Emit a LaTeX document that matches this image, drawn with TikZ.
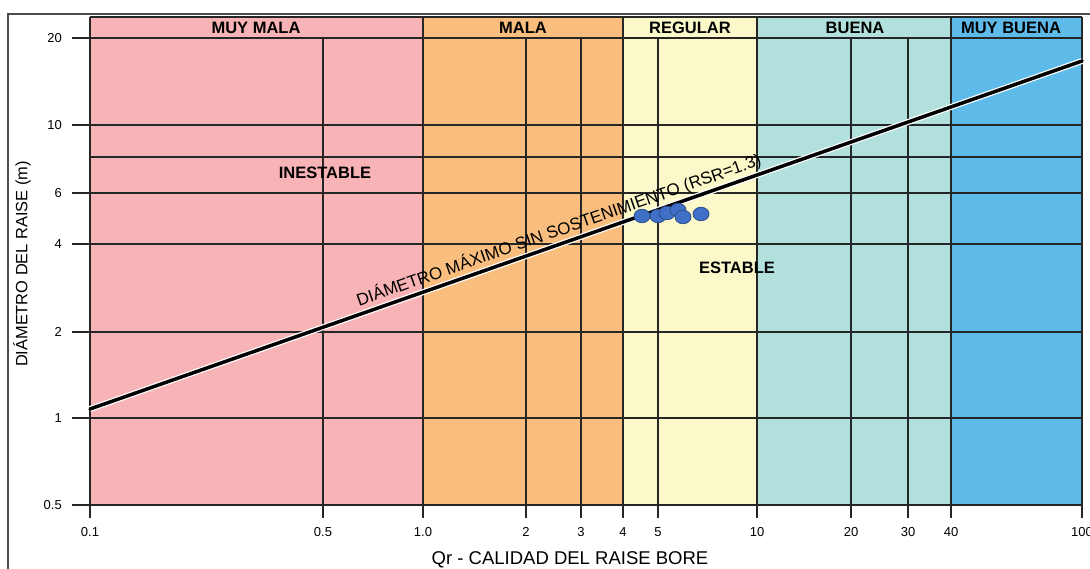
\documentclass[tikz,border=0pt]{standalone}
\usepackage{fontspec}
\setmainfont{Liberation Sans}
\usepackage{xcolor}
\usetikzlibrary{shapes.geometric, calc, positioning}

\definecolor{muymala}{HTML}{F7B3B6}
\definecolor{mala}{HTML}{F9BE7D}
\definecolor{regular}{HTML}{FBF8CA}
\definecolor{buena}{HTML}{B2E0DC}
\definecolor{muybuena}{HTML}{5EBAE8}
\definecolor{punto}{HTML}{3F6FC6}

\tikzset{
  gridline/.style={draw=black!85, line width=1.3pt},
  zonetext/.style={font=\fontsize{16.5}{18}\selectfont\bfseries, inner sep=0pt},
  ticktext/.style={font=\fontsize{13}{14}\selectfont, inner sep=0pt},
  dato/.style={ellipse, draw=punto!70!black, fill=punto, line width=0.8pt, minimum width=16pt, minimum height=13.5pt, inner sep=0pt}
}

\begin{document}
\begin{tikzpicture}[x=1pt, y=-1pt]
        \useasboundingbox (0,0) rectangle (1090,568);

        \fill [muymala] (90,17) rectangle (423,505);
        \fill [mala] (423,17) rectangle (623,505);
        \fill [regular] (623,17) rectangle (757,505);
        \fill [buena] (757,17) rectangle (951,505);
        \fill [muybuena] (951,17) rectangle (1082,505);

        \draw [line width=2pt, black!70] (8,580) -- (8,14) -- (1100,14);

        \foreach \py in {17,38,125,157,193,244,332,418,505}
            \draw [gridline] (90,\py) -- (1082,\py);
        \foreach \px in {90,423,623,757,951,1082}
            \draw [gridline] (\px,17) -- (\px,518);
        \foreach \px in {323,526,581,658,851,908}
            \draw [gridline] (\px,38) -- (\px,518);

        \foreach \py/\lab [count=\i] in {38/20,125/10,193/6,244/4,332/2,418/1,505/0.5} {
            \draw [gridline] (72,\py) -- (90,\py);
            \node [ticktext, anchor=east] (ylab\i) at (62,\py) {\lab};
        }
        \foreach \px/\lab [count=\i] in {90/0.1,323/0.5,423/1.0,526/2,581/3,623/4,658/5,757/10,851/20,908/30,951/40,1082/100}
            \node [ticktext] (xlab\i) at (\px,532) {\lab};

        \node [zonetext] (hMuyMala) at (256,28) {MUY MALA};
        \node [zonetext] (hMala) at (523,28) {MALA};
        \node [zonetext] (hRegular) at (690,28) {REGULAR};
        \node [zonetext] (hBuena) at (855,28) {BUENA};
        \node [zonetext] (hMuyBuena) at (1011,28) {MUY BUENA};

        \coordinate (rA) at (90,409);
        \coordinate (rB) at (1082,61);
        \draw [white, line width=6pt] (rA) -- (rB);
        \draw [line width=3.5pt, line cap=round] (rA) -- node [sloped, above, pos=0.477, inner sep=2.5pt, font=\fontsize{17}{18}\selectfont] (rsr) {DIÁMETRO MÁXIMO SIN SOSTENIMIENTO (RSR=1.3)} (rB);

        \node [dato] (d1) at (642,216) {};
        \node [dato] (d2) at (658,216) {};
        \node [dato] (d3) at (667,213) {};
        \node [dato] (d4) at (678,210) {};
        \node [dato] (d5) at (683,217) {};
        \node [dato] (d6) at (701,214) {};

        \node [zonetext] (inestable) at (325,173) {INESTABLE};
        \node [zonetext] (estable) at (737,268) {ESTABLE};

        \node [font=\fontsize{18.5}{20}\selectfont] (xtitle) at (570,560) {Qr - CALIDAD DEL RAISE BORE};
        \node [font=\fontsize{16.4}{18}\selectfont, rotate=90] (ytitle) at (22,264) {DIÁMETRO DEL RAISE (m)};
\end{tikzpicture}
\end{document}
